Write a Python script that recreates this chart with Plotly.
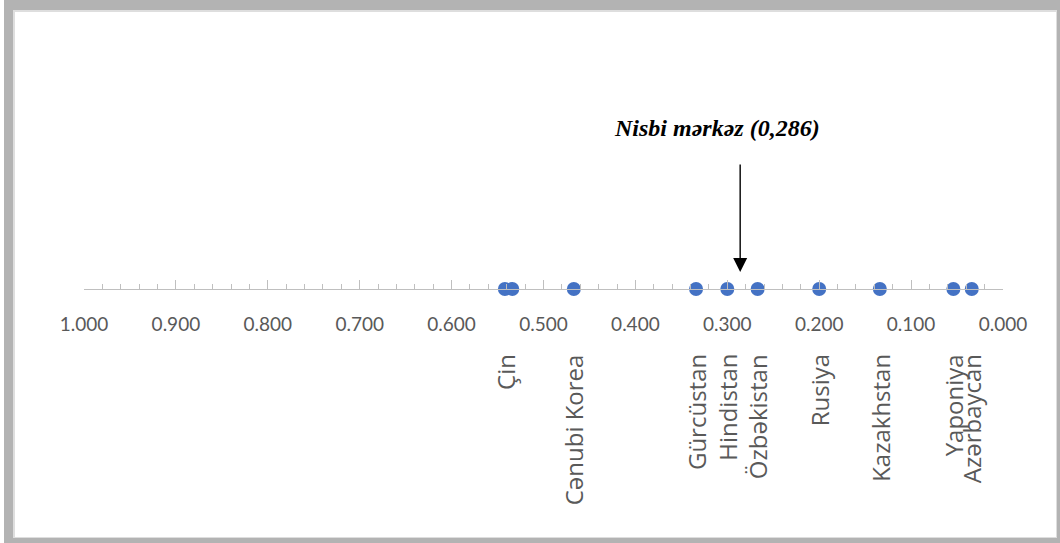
import plotly.graph_objects as go

# Data
countries = ["Çin", "", "Cənubi Korea", "Gürcüstan", "Hindistan", "Özbəkistan",
             "Rusiya", "Kazakhstan", "Yaponiya", "Azərbaycan"]
values = [0.542, 0.534, 0.467, 0.334, 0.300, 0.267, 0.200, 0.134, 0.054, 0.034]
center_value = 0.286
center_label = "Nisbi mərkəz (0,286)"
tick_values = [1.0, 0.9, 0.8, 0.7, 0.6, 0.5, 0.4, 0.3, 0.2, 0.1, 0.0]

W, H = 1060, 543
ML, MR, MT, MB = 84, 57, 20, 254
PW = W - ML - MR
PH = H - MT - MB


def px_x(px):
    return (px - ML) / PW


def px_y(py):
    return (H - MB - py) / PH


fig = go.Figure()
fig.add_trace(go.Scatter(
    x=values, y=[0] * len(values), mode="markers",
    marker=dict(color="#4472C4", size=14, line=dict(width=0)),
    cliponaxis=False, hoverinfo="x",
))

annotations = []
for name, v in zip(countries, values):
    if not name:
        continue
    annotations.append(dict(
        x=v, y=px_y(352), xref="x", yref="paper", text=name, showarrow=False,
        textangle=-90, xanchor="center", yanchor="top",
        font=dict(family="Open Sans", size=24, color="#595959"),
    ))

# arrow
annotations.append(dict(
    x=center_value, y=17, xref="x", yref="y", ax=center_value, ay=126,
    axref="x", ayref="y", text="", showarrow=True, arrowhead=2,
    arrowsize=2, arrowwidth=1.4, arrowcolor="#000000",
))
annotations.append(dict(
    x=0.311, y=161, xref="x", yref="y", text="<b><i>" + center_label + "</i></b>",
    showarrow=False, xanchor="center", yanchor="middle",
    font=dict(family="Liberation Serif", size=24, color="#000000"),
))

shapes = [
    dict(type="rect", xref="paper", yref="paper", layer="below",
         x0=px_x(4), x1=px_x(W + 5), y0=px_y(H + 5), y1=px_y(-5),
         fillcolor="#b3b3b3", line=dict(width=0)),
    dict(type="rect", xref="paper", yref="paper", layer="below",
         x0=px_x(13), x1=px_x(1057), y0=px_y(538), y1=px_y(10),
         fillcolor="#dedede", line=dict(width=0)),
    dict(type="rect", xref="paper", yref="paper", layer="below",
         x0=px_x(15), x1=px_x(1056), y0=px_y(537), y1=px_y(12),
         fillcolor="#ffffff", line=dict(width=0)),
]

fig.update_layout(
    width=W, height=H,
    margin=dict(l=ML, r=MR, t=MT, b=MB, pad=0),
    paper_bgcolor="#ffffff", plot_bgcolor="rgba(0,0,0,0)",
    showlegend=False,
    annotations=annotations, shapes=shapes,
    xaxis=dict(
        range=[1.0, 0.0], tickvals=tick_values, tickformat=".3f",
        ticks="inside", ticklen=9, tickwidth=1, tickcolor="#bfbfbf",
        showline=True, linecolor="#bfbfbf", linewidth=1,
        showgrid=False, zeroline=False, fixedrange=True,
        ticklabelstandoff=18,
        tickfont=dict(family="Lato", size=19, color="#595959"),
        minor=dict(dtick=0.02, ticks="inside", ticklen=5, tickwidth=1,
                   tickcolor="#bfbfbf", showgrid=False),
    ),
    yaxis=dict(range=[0, PH], visible=False, fixedrange=True),
)

fig.write_html(
    "out.html",
    config={"displayModeBar": False},
    post_script="document.body.style.margin='0';document.body.style.overflow='hidden';",
)
